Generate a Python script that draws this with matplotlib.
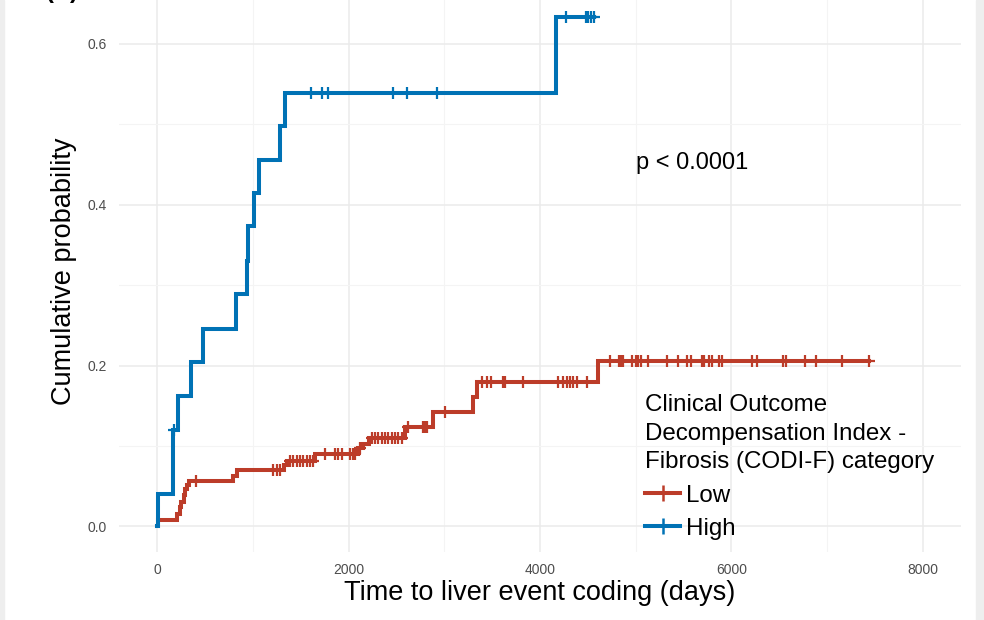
import numpy as np
import matplotlib
matplotlib.use("Agg")
import matplotlib.pyplot as plt
from matplotlib.patches import Rectangle

# ==================== Data ====================

# High CODI-F group: event times (days) and cumulative probability after each event
high_event_t = [3, 161, 216, 355, 480, 822, 934, 947, 1010, 1066, 1283, 1340, 4165]
high_event_y = [0.041, 0.120, 0.162, 0.204, 0.246, 0.289, 0.330, 0.373, 0.415,
                0.456, 0.498, 0.539, 0.633]
high_censor_t = [170, 1603, 1724, 1787, 2463, 2606, 2926, 4272, 4480, 4505, 4530, 4560]
high_end_t = 4560

# Low CODI-F group
low_event_t = [10, 203, 240, 250, 275, 295, 315, 335, 788, 830, 1320, 1352, 1648,
               2100, 2150, 2210, 2588, 2884, 3305, 3340, 4605]
low_event_y = [0.008, 0.016, 0.024, 0.031, 0.039, 0.046, 0.051, 0.056, 0.063, 0.070,
               0.077, 0.082, 0.090, 0.097, 0.103, 0.110, 0.124, 0.142, 0.161, 0.180,
               0.206]
low_censor_t = [401, 1212, 1248, 1282,
                1387, 1421, 1457, 1491, 1526, 1561, 1596, 1630,
                1752, 1857, 1891, 1927, 2014, 2048, 2066, 2118,
                2240, 2275, 2310, 2345, 2380, 2414, 2449, 2484, 2519, 2554,
                2623, 2780, 2797, 2815, 3006,
                3390, 3442, 3484, 3616, 3634, 3825, 4190, 4242, 4278, 4312, 4347,
                4389, 4487,
                4730, 4828, 4845, 4863, 4963, 5002, 5026, 5051, 5131, 5329, 5444,
                5538, 5574, 5689, 5712, 5768, 5803, 5873, 5898, 6221, 6263, 6541,
                6570, 6768, 6890, 7158, 7440]
low_end_t = 7440

x_ticks = [0, 2000, 4000, 6000, 8000]
y_ticks = [0.0, 0.2, 0.4, 0.6]
p_text = "p < 0.0001"
legend_title = "Clinical Outcome\nDecompensation Index -\nFibrosis (CODI-F) category"
group_labels = ["Low", "High"]
group_colors = ["#BC3C29", "#0072B5"]

# ==================== Helpers ====================

def step_curve(event_t, event_y, end_t):
    """Cumulative step curve starting at 0, extended to the last follow-up"""
    x = [0] + list(event_t) + [end_t]
    y = [0] + list(event_y) + [event_y[-1]]
    return np.array(x), np.array(y)

def value_at(event_t, event_y, t):
    """Value of the step curve at the given times"""
    idx = np.searchsorted(np.array(event_t), np.array(t), side="right") - 1
    vals = np.where(idx >= 0, np.array(event_y)[np.clip(idx, 0, None)], 0.0)
    return vals

# ==================== Plot ====================

plt.rcParams["font.family"] = ["Liberation Sans", "DejaVu Sans"]

fig = plt.figure(figsize=(9.84, 6.2), dpi=100)
ax = fig.add_axes([0.1209, 0.1097, 0.8557, 0.904])

curves = [
    (low_event_t, low_event_y, low_censor_t, low_end_t),
    (high_event_t, high_event_y, high_censor_t, high_end_t),
]
for (et, ey, ct, end), label, color in zip(curves, group_labels, group_colors):
    x, y = step_curve(et, ey, end)
    ax.step(x, y, where="post", color=color, lw=2.9, solid_joinstyle="miter", zorder=3)
    ax.plot(ct, value_at(et, ey, ct), ls="none", marker="+", ms=8, mew=1.6,
            color=color, zorder=4)
    # legend proxy
    ax.plot([], [], color=color, lw=2.9, marker="+", ms=11, mew=1.8, label=label)

ax.set_xlim(-400, 8400)
ax.set_ylim(-0.0317, 0.665)
ax.set_xticks(x_ticks)
ax.set_xticks([1000, 3000, 5000, 7000], minor=True)
ax.set_yticks(y_ticks)
ax.set_yticks([0.1, 0.3, 0.5], minor=True)
ax.set_yticklabels([f"{v:.1f}" for v in y_ticks])

ax.grid(True, which="major", color="#EBEBEB", lw=1.1, zorder=0)
ax.grid(True, which="minor", color="#F4F4F4", lw=0.8, zorder=0)
for side in ax.spines.values():
    side.set_visible(False)
ax.tick_params(which="both", length=0)
ax.tick_params(axis="x", labelsize=10, labelcolor="#4D4D4D", pad=8)
ax.tick_params(axis="y", labelsize=10, labelcolor="#4D4D4D", pad=9)

ax.set_xlabel("Time to liver event coding (days)", fontsize=19.5, labelpad=2)
ax.set_ylabel("Cumulative probability", fontsize=19.5, labelpad=7)

ax.text(5590, 0.452, p_text, fontsize=17, ha="center", va="center")

leg = ax.legend(title=legend_title, loc="upper left", bbox_to_anchor=(0.625, 0.281),
                frameon=False, fontsize=17.4, title_fontsize=17.4, handlelength=1.45,
                handletextpad=0.25, labelspacing=0.46, borderpad=0, borderaxespad=0,
                alignment="left")
leg.get_title().set_linespacing(1.38)

# panel letter, mostly cut off by the top edge as in the reference
fig.text(0.063, 1.003, "(B)", fontsize=17, fontweight="bold", ha="center", va="baseline")

# thin grey frame strips of the screenshot
fig.patches.append(Rectangle((0, 0), 0.004, 1, transform=fig.transFigure,
                             color="#EEEEEE", zorder=-1))
fig.patches.append(Rectangle((0.992, 0), 0.008, 1, transform=fig.transFigure,
                             color="#EEEEEE", zorder=-1))

fig.savefig("out.png", dpi=100)
